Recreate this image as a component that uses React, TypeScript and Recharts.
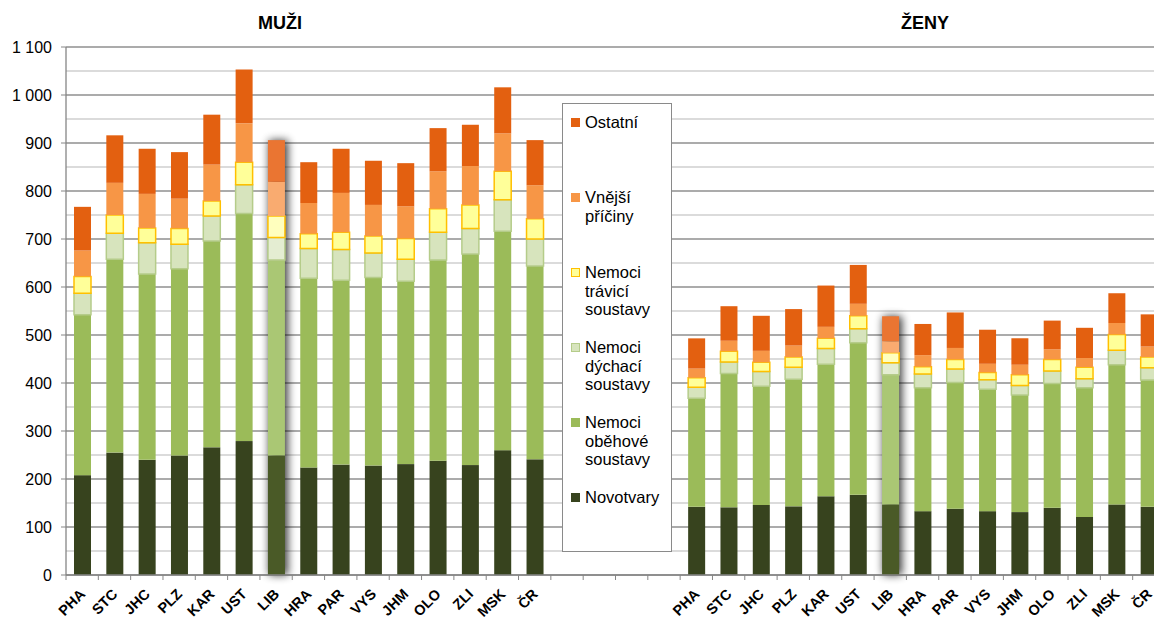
import React from "react";
import {
  Bar,
  BarChart,
  CartesianGrid,
  Cell,
  Legend,
  XAxis,
  YAxis,
} from "recharts";

const regions = ["PHA", "STC", "JHC", "PLZ", "KAR", "UST", "LIB", "HRA", "PAR", "VYS", "JHM", "OLO", "ZLI", "MSK", "ČR"];

// muži
const novotvaryM = [208, 255, 240, 249, 266, 279, 249, 224, 230, 228, 231, 238, 229, 260, 241];
const obehoveM = [334, 403, 387, 389, 430, 474, 407, 394, 384, 392, 381, 418, 440, 456, 403];
const dychaciM = [45, 54, 65, 51, 52, 60, 47, 62, 64, 51, 46, 58, 53, 66, 56];
const traviciM = [35, 38, 31, 33, 31, 47, 45, 31, 36, 35, 43, 49, 49, 59, 42];
const vnejsiM = [54, 67, 71, 62, 76, 81, 71, 64, 82, 65, 67, 78, 81, 79, 70];
const ostatniM = [91, 99, 94, 97, 104, 112, 87, 85, 92, 92, 90, 90, 86, 96, 94];

// ženy
const novotvaryZ = [142, 141, 146, 143, 164, 167, 147, 133, 138, 133, 131, 140, 121, 147, 142];
const obehoveZ = [226, 279, 247, 265, 275, 317, 270, 257, 263, 254, 244, 259, 269, 291, 264];
const dychaciZ = [23, 24, 31, 25, 33, 29, 25, 29, 28, 20, 20, 26, 19, 30, 26];
const traviciZ = [20, 22, 19, 21, 21, 27, 21, 15, 20, 15, 22, 24, 24, 33, 22];
const vnejsiZ = [19, 22, 24, 24, 24, 25, 24, 24, 24, 18, 21, 21, 19, 24, 22];
const ostatniZ = [63, 72, 73, 76, 86, 81, 52, 65, 74, 71, 55, 60, 63, 62, 67];

const majorTicks = [0, 100, 200, 300, 400, 500, 600, 700, 800, 900, 1000, 1100];
const minorTicks = [50, 150, 250, 350, 450, 550, 650, 750, 850, 950, 1050];

const GAP = 4;
const HIGHLIGHT = "LIB";

const series = [
  { key: "nov", name: "Novotvary", fill: "#37431E", lib: "#4A5A27", stroke: "none" },
  { key: "obe", name: "Nemoci oběhové soustavy", fill: "#9BBB59", lib: "#AAC774", stroke: "none" },
  { key: "dyc", name: "Nemoci dýchací soustavy", fill: "#D7E4BD", lib: "#E4EDD2", stroke: "#B5CC8A" },
  { key: "tra", name: "Nemoci trávicí soustavy", fill: "#FFFF99", lib: "#FFFFBE", stroke: "#FFC000" },
  { key: "vne", name: "Vnější příčiny", fill: "#F79646", lib: "#F9AB70", stroke: "none" },
  { key: "ost", name: "Ostatní", fill: "#E36010", lib: "#EA7532", stroke: "none" },
];

type Row = {
  key: string;
  label: string;
  nov?: number;
  obe?: number;
  dyc?: number;
  tra?: number;
  vne?: number;
  ost?: number;
};

const data: Row[] = [
  ...regions.map((r, i) => ({
    key: "m" + i,
    label: r,
    nov: novotvaryM[i],
    obe: obehoveM[i],
    dyc: dychaciM[i],
    tra: traviciM[i],
    vne: vnejsiM[i],
    ost: ostatniM[i],
  })),
  ...Array.from({ length: GAP }, (_, i) => ({ key: "g" + i, label: "" })),
  ...regions.map((r, i) => ({
    key: "z" + i,
    label: r,
    nov: novotvaryZ[i],
    obe: obehoveZ[i],
    dyc: dychaciZ[i],
    tra: traviciZ[i],
    vne: vnejsiZ[i],
    ost: ostatniZ[i],
  })),
];

const labelOf = (k: string) => data.find((d) => d.key === k)?.label ?? "";
const fmt = (v: number) => String(v).replace(/\B(?=(\d{3})+(?!\d))/g, " ");
const FONT = "'Liberation Sans', Arial, sans-serif";

// bottom segment also draws the glow behind the whole highlighted stack
const NovShape = (props: any) => {
  const { x, y, width, height, fill, payload } = props;
  if (payload && payload.label === HIGHLIGHT && payload.nov) {
    const per = height / payload.nov;
    const sum = payload.nov + payload.obe + payload.dyc + payload.tra + payload.vne + payload.ost;
    const total = sum * per;
    return (
      <g>
        <rect
          x={x + 1}
          y={y + height - total}
          width={width + 2}
          height={total}
          fill="#000"
          opacity={0.75}
          filter="url(#libGlow)"
        />
        <rect x={x} y={y} width={width} height={height} fill={fill} />
      </g>
    );
  }
  return <rect x={x} y={y} width={width} height={height} fill={fill} />;
};

const XTick = (props: any) => {
  const { x, y, payload } = props;
  const half = payload.offset || 16.16;
  return (
    <g>
      <line x1={x - half} x2={x - half} y1={y} y2={y + 5} stroke="#868686" />
      <text
        transform={`translate(${x + 4},${y + 20}) rotate(-45)`}
        textAnchor="end"
        fontSize={14.5}
        fontWeight="bold"
        fontFamily={FONT}
        fill="#000"
      >
        {labelOf(payload.value)}
      </text>
    </g>
  );
};

const LegendBox = () => (
  <div
    style={{
      width: 110,
      height: 449,
      border: "1px solid #8a8a8a",
      background: "#fff",
      boxSizing: "border-box",
      paddingTop: 9,
      fontFamily: FONT,
      fontSize: 16.5,
      lineHeight: "18.7px",
      color: "#000",
    }}
  >
    {[...series].reverse().map((s) => (
      <div key={s.key} style={{ height: 75, display: "flex", alignItems: "flex-start" }}>
        <span
          style={{
            display: "inline-block",
            width: s.stroke === "none" ? 9 : 7,
            height: s.stroke === "none" ? 9 : 7,
            marginLeft: 8,
            marginTop: 5,
            marginRight: 5,
            background: s.fill,
            border: s.stroke === "none" ? "none" : `1px solid ${s.stroke}`,
            flex: "none",
          }}
        />
        <span style={{ width: 84 }}>{s.name}</span>
      </div>
    ))}
  </div>
);

export default function App() {
  return (
    <div
      style={{
        position: "absolute",
        left: 0,
        top: 0,
        width: 1154,
        height: 623,
        overflow: "hidden",
        background: "#fff",
      }}
    >
      <BarChart
        width={1166}
        height={623}
        data={data}
        margin={{ top: 47, right: 1, bottom: 0, left: 0 }}
        barSize={17}
      >
        <defs>
          <filter id="libGlow" x="-150%" y="-10%" width="400%" height="120%">
            <feGaussianBlur stdDeviation="4" />
          </filter>
        </defs>
        <CartesianGrid vertical={false} horizontalValues={minorTicks} stroke="#cfcfcf" strokeWidth={1.3} />
        <CartesianGrid vertical={false} horizontalValues={majorTicks} stroke="#8f8f8f" strokeWidth={1.3} />
        <XAxis
          dataKey="key"
          interval={0}
          height={48}
          tickLine={false}
          tickSize={0}
          tickMargin={0}
          axisLine={{ stroke: "#868686", strokeWidth: 1.3 }}
          tick={<XTick />}
        />
        <YAxis
          type="number"
          domain={[0, 1100]}
          ticks={majorTicks}
          interval={0}
          width={66}
          tickSize={5}
          tickMargin={9}
          tickFormatter={fmt}
          axisLine={{ stroke: "#868686", strokeWidth: 1.3 }}
          tickLine={{ stroke: "#868686" }}
          tick={{ fill: "#000", fontSize: 16, fontFamily: FONT }}
        />
        <Legend
          layout="vertical"
          align="center"
          verticalAlign="middle"
          wrapperStyle={{ position: "absolute", left: 562, top: 103, width: 110, height: 449 }}
          content={<LegendBox />}
        />
        {series.map((s) => (
          <Bar
            key={s.key}
            dataKey={s.key}
            name={s.name}
            stackId="a"
            fill={s.fill}
            stroke={s.stroke}
            strokeWidth={s.stroke === "none" ? 0 : 1.5}
            isAnimationActive={false}
            shape={s.key === "nov" ? <NovShape /> : undefined}
          >
            {data.map((d) => (
              <Cell key={d.key} fill={d.label === HIGHLIGHT ? s.lib : s.fill} />
            ))}
          </Bar>
        ))}
      </BarChart>
      <div
        style={{
          position: "absolute",
          left: 230,
          width: 100,
          top: 13,
          textAlign: "center",
          fontFamily: FONT,
          fontWeight: "bold",
          fontSize: 18,
        }}
      >
        MUŽI
      </div>
      <div
        style={{
          position: "absolute",
          left: 875,
          width: 100,
          top: 13,
          textAlign: "center",
          fontFamily: FONT,
          fontWeight: "bold",
          fontSize: 18,
        }}
      >
        ŽENY
      </div>
    </div>
  );
}
